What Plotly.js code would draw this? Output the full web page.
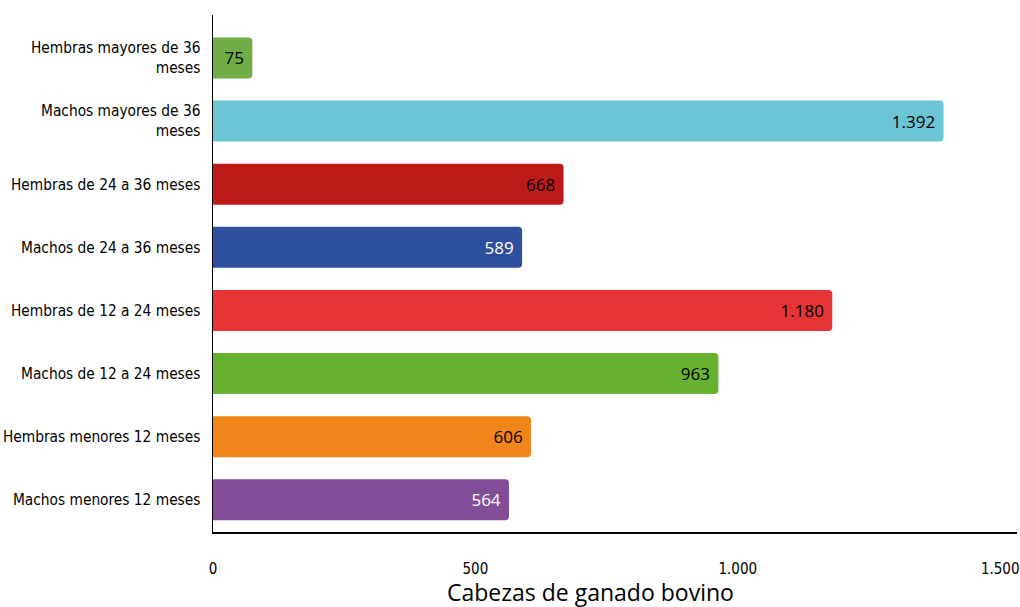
<!DOCTYPE html>
<html>
<head>
<meta charset="utf-8">
<script src="https://cdn.plot.ly/plotly-3.0.1.min.js"></script>
<style>html,body{margin:0;padding:0;background:#fff;}#chart{width:1020px;height:607px;}</style>
</head>
<body>
<div id="chart"></div>
<script>
// Data (bottom to top)
const categories = [
  "Machos menores 12 meses",
  "Hembras menores 12 meses",
  "Machos de 12 a 24 meses",
  "Hembras de 12 a 24 meses",
  "Machos de 24 a 36 meses",
  "Hembras de 24 a 36 meses",
  "Machos mayores de 36<br>meses",
  "Hembras mayores de 36<br>meses"
];
const values = [564, 606, 963, 1180, 589, 668, 1392, 75];
const barColors = ["#824c96", "#f08519", "#67b22f", "#e83434", "#2e4f9e", "#be1a1a", "#6cc5d5", "#70ad47"];
const textColors = ["#ffffff", "#000000", "#000000", "#000000", "#ffffff", "#000000", "#000000", "#000000"];
const xTickVals = [0, 500, 1000, 1500];
const xTickText = ["0", "500", "1.000", "1.500"];
const xTitle = "Cabezas de ganado bovino";

const narrow = "DejaVu Sans Condensed, Liberation Sans Narrow, Liberation Sans, Arial, sans-serif";

const trace = {
  type: "bar",
  orientation: "h",
  y: categories,
  x: values,
  marker: {color: barColors, cornerradius: 4, line: {width: 0}},
  texttemplate: "%{x:,.0f}\u00a0",
  textposition: "inside",
  insidetextanchor: "end",
  constraintext: "none",
  textfont: {family: "Open Sans, sans-serif", size: 17, color: textColors},
  hoverinfo: "none",
  cliponaxis: false
};

const layout = {
  width: 1020,
  height: 607,
  margin: {l: 213, r: 3, t: 15, b: 75},
  paper_bgcolor: "#ffffff",
  plot_bgcolor: "#ffffff",
  separators: ",.",
  bargap: 0.35,
  showlegend: false,
  xaxis: {
    range: [0, 1532],
    tickvals: xTickVals,
    ticktext: xTickText,
    showgrid: false,
    zeroline: false,
    showline: true,
    linecolor: "#000000",
    linewidth: 1.5,
    ticks: "",
    ticklabelstandoff: 22,
    ticklabeloverflow: "allow",
    tickfont: {family: narrow, size: 15, color: "#000000"}
  },
  yaxis: {
    type: "category",
    range: [-0.51, 7.68],
    autorange: false,
    showgrid: false,
    zeroline: false,
    showline: true,
    linecolor: "#000000",
    linewidth: 1.5,
    ticks: "",
    ticklabelstandoff: 8,
    tickfont: {family: narrow, size: 15.3, color: "#000000"}
  },
  annotations: [{
    text: xTitle,
    xref: "paper", yref: "paper",
    x: 0.47, y: -0.116,
    xanchor: "center", yanchor: "middle",
    showarrow: false,
    font: {family: "Open Sans, sans-serif", size: 23, color: "#000000"}
  }]
};

Plotly.newPlot("chart", [trace], layout, {displayModeBar: false, staticPlot: true});
</script>
</body>
</html>
